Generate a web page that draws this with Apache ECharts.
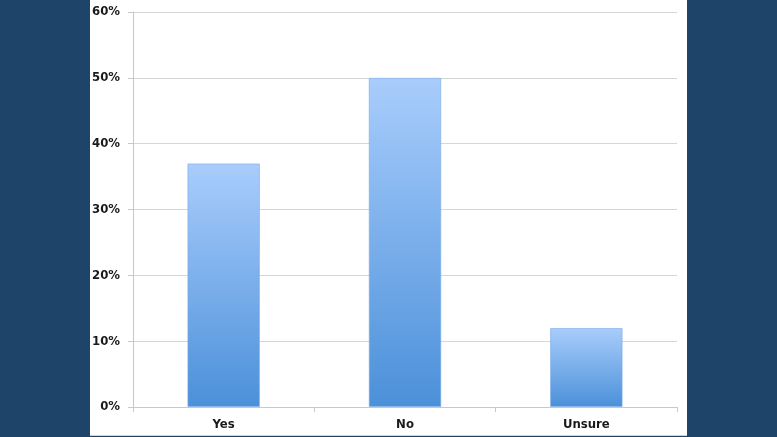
<!DOCTYPE html>
<html>
<head>
<meta charset="utf-8">
<script src="https://cdn.jsdelivr.net/npm/echarts@6/dist/echarts.min.js"></script>
<style>
html,body{margin:0;padding:0;background:#1e446a;width:777px;height:437px;overflow:hidden;}
#panel{position:absolute;left:90px;top:0;width:597px;height:435px;background:#fff;border-bottom:1px solid #d4d4d4;}
#chart{position:absolute;left:0;top:0;width:777px;height:437px;}
</style>
</head>
<body>
<div id="panel"></div>
<div id="chart"></div>
<script>
const categories = ['Yes', 'No', 'Unsure'];
const values = [37, 50, 12];
const yTicks = [0, 10, 20, 30, 40, 50, 60];

const chart = echarts.init(document.getElementById('chart'), null, {renderer: 'canvas'});
const font = '"Liberation Sans Narrow", "DejaVu Sans Condensed", sans-serif';
chart.setOption({
  backgroundColor: 'transparent',
  animation: false,
  grid: {left: 133, right: 100, top: 12, bottom: 30},
  xAxis: {
    type: 'category',
    data: categories,
    axisLine: {show: true, lineStyle: {color: '#c8c8c8', width: 1}},
    axisTick: {show: true, length: 5, lineStyle: {color: '#c8c8c8'}},
    axisLabel: {color: '#1a1a1a', fontFamily: font, fontWeight: 'bold', fontSize: 13, margin: 11}
  },
  yAxis: {
    type: 'value',
    min: yTicks[0], max: yTicks[yTicks.length - 1], interval: 10,
    axisLine: {show: true, lineStyle: {color: '#c8c8c8', width: 1}},
    axisTick: {show: true, length: 5, lineStyle: {color: '#c8c8c8'}},
    splitLine: {show: true, lineStyle: {color: '#d6d6d6', width: 1}},
    axisLabel: {color: '#1a1a1a', fontFamily: font, fontWeight: 'bold', fontSize: 13, margin: 13, formatter: '{value}%'}
  },
  series: [{
    type: 'bar',
    data: values,
    barWidth: '40%',
    itemStyle: {
      color: new echarts.graphic.LinearGradient(0, 0, 0, 1, [
        {offset: 0, color: '#a9cdfc'},
        {offset: 1, color: '#4b90d9'}
      ]),
      borderColor: 'rgba(120,170,230,0.6)',
      borderWidth: 1
    }
  }]
});
</script>
</body>
</html>
